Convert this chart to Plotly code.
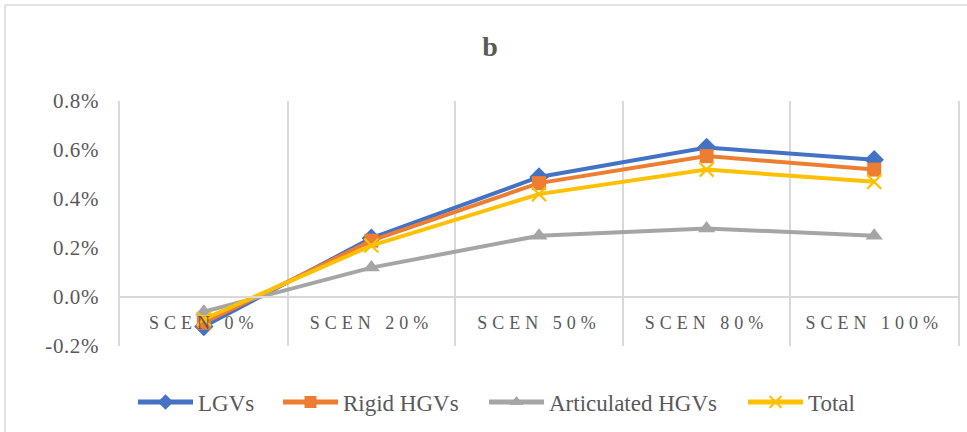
import plotly.graph_objects as go

categories = ["SCEN 0%", "SCEN 20%", "SCEN 50%", "SCEN 80%", "SCEN 100%"]
lgvs = [-0.0012, 0.0024, 0.0049, 0.0061, 0.0056]
rigid_hgvs = [-0.00105, 0.0023, 0.00465, 0.00575, 0.0052]
articulated_hgvs = [-0.0006, 0.0012, 0.0025, 0.0028, 0.0025]
total = [-0.0009, 0.0021, 0.0042, 0.0052, 0.0047]
y_tick_vals = [-0.002, 0.0, 0.002, 0.004, 0.006, 0.008]
y_tick_text = ["-0.2%", "0.0%", "0.2%", "0.4%", "0.6%", "0.8%"]

TEXT = "#595959"
GRID = "#d9d9d9"
FONT = "Liberation Serif"

W, H = 967, 432
L, R, T, B = 120, 9, 101, 86
pw = W - L - R
ph = H - T - B

def px_x(x):
    return (x - L) / pw

def px_y(y):
    return (H - B - y) / ph

def sp(text, ls):
    return f"<span style=\"font-family:'Liberation Serif';letter-spacing:{ls}px\">{text}</span>"

series = [
    ("LGVs", lgvs, "#4472C4", dict(symbol="diamond", size=15, color="#4472C4"), 138),
    ("Rigid HGVs", rigid_hgvs, "#ED7D31", dict(symbol="square", size=14, color="#ED7D31"), 283),
    ("Articulated HGVs", articulated_hgvs, "#A5A5A5", dict(symbol="triangle-up", size=15, color="#A5A5A5"), 489),
    ("Total", total, "#FFC000", dict(symbol="x-thin", size=14, color="#FFC000",
                                      line=dict(color="#FFC000", width=2.2)), 748),
]

fig = go.Figure()
legend_layouts = {}
for i, (name, vals, color, marker, lx) in enumerate(series):
    lname = "legend" if i == 0 else f"legend{i + 1}"
    fig.add_trace(go.Scatter(
        x=categories, y=vals, mode="lines+markers", name=name,
        line=dict(color=color, width=4), marker=marker, legend=lname,
    ))
    legend_layouts[lname] = dict(
        orientation="h", x=px_x(lx - 5), y=px_y(402), xanchor="left", yanchor="middle",
        font=dict(family=FONT, size=23, color=TEXT), bgcolor="rgba(0,0,0,0)",
        borderwidth=0, itemwidth=55, itemsizing="constant",
    )

y0 = y_tick_vals[0]
y1 = y_tick_vals[-1]
zero_pos = (0 - y0) / (y1 - y0)

fig.update_layout(
    template="none",
    width=W, height=H,
    margin=dict(l=L, r=R, t=T, b=B, autoexpand=False),
    paper_bgcolor="white", plot_bgcolor="white",
    font=dict(family=FONT, color=TEXT, size=18),
    title=dict(text="b", x=490 / W, xref="container", xanchor="center",
               y=1 - 46 / H, yref="container", yanchor="middle",
               font=dict(family=FONT, size=28, color=TEXT, weight="bold")),
    showlegend=True,
    xaxis=dict(type="category", tickson="boundaries", showgrid=True, gridcolor=GRID, gridwidth=1.5,
               anchor="free", position=zero_pos, showline=True, linecolor=GRID, linewidth=1.5,
               ticks="", tickmode="array", tickvals=categories,
               ticktext=[sp(c, 5) for c in categories],
               tickfont=dict(family=FONT, size=18, color=TEXT), ticklabelstandoff=10,
               zeroline=False, automargin=False, range=[-0.5, 4.5]),
    yaxis=dict(range=[y0, y1], tickmode="array", tickvals=y_tick_vals,
               ticktext=[sp(t, 0.6) for t in y_tick_text],
               showgrid=False, zeroline=False, showline=True, mirror=True,
               linecolor=GRID, linewidth=1.5, ticks="",
               tickfont=dict(family=FONT, size=21, color=TEXT), ticklabelstandoff=15,
               automargin=False),
    shapes=[
        dict(type="line", xref="paper", yref="paper", x0=px_x(5), x1=px_x(5),
             y0=px_y(440), y1=px_y(5), line=dict(color=GRID, width=1.5)),
        dict(type="line", xref="paper", yref="paper", x0=px_x(5), x1=px_x(975),
             y0=px_y(5), y1=px_y(5), line=dict(color=GRID, width=1.5)),
    ],
    **legend_layouts,
)

fig.write_html("out.html", config={"displayModeBar": False},
               post_script="document.body.style.margin='0';document.body.style.overflow='hidden';")
